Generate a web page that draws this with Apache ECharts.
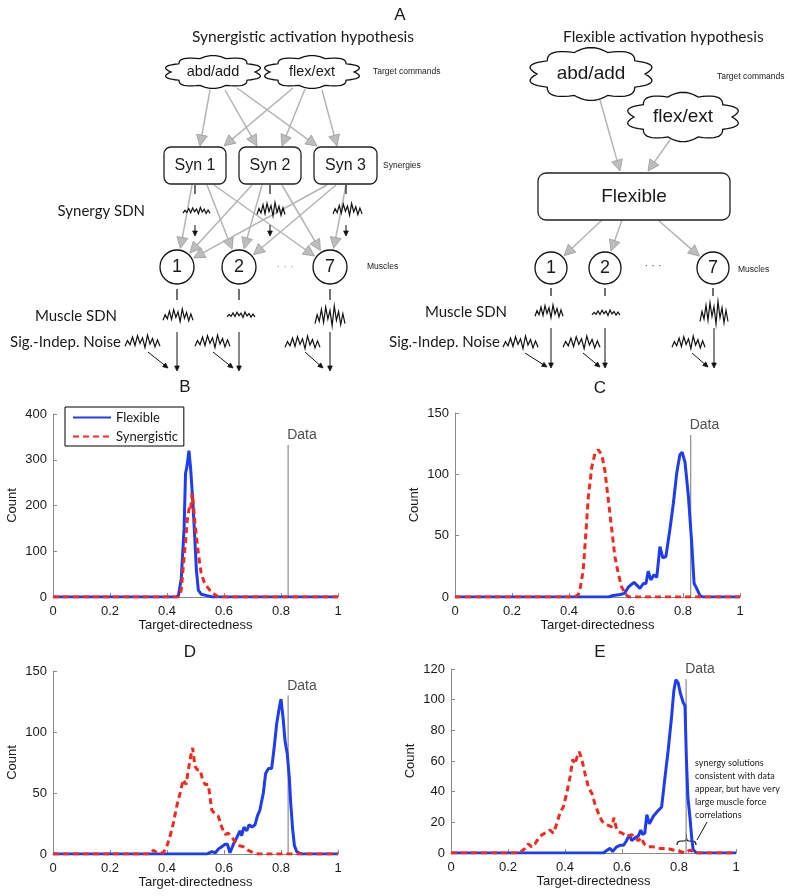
<!DOCTYPE html>
<html><head><meta charset="utf-8">
<script src="https://cdn.jsdelivr.net/npm/echarts@6/dist/echarts.min.js"></script>
<style>html,body{margin:0;padding:0;background:#fff}#c{width:800px;height:896px}</style>
</head><body><div id="c"></div>
<script>
// ---------------- DATA ----------------
const xTickLabels = ['0','0.2','0.4','0.6','0.8','1'];
const yMaxes = [400,150,150,120];
const ySteps = [100,50,50,20];
const dataLineX = [0.825,0.827,0.825,0.825];
const dataLineTop = [332,132,130,113.5];

const flexB = [[0,0],[0.43,0],[0.44,3],[0.45,40],[0.46,150],[0.465,270],[0.47,285],[0.477,320],[0.483,280],[0.49,215],[0.497,135],[0.503,60],[0.51,15],[0.52,6],[0.54,3],[0.56,0],[1,0]];
const synB = [[0,0],[0.44,0],[0.45,15],[0.457,66],[0.465,120],[0.471,168],[0.478,195],[0.483,190],[0.488,227],[0.493,200],[0.498,162],[0.504,128],[0.51,96],[0.515,72],[0.52,52],[0.53,33],[0.539,24],[0.55,15],[0.56,9],[0.57,4],[0.58,1],[0.6,0],[1,0]];

const flexC = [[0,0],[0.54,0],[0.55,1],[0.58,2],[0.595,3],[0.608,8],[0.628,12],[0.649,7],[0.661,11],[0.67,11],[0.678,21],[0.687,14],[0.698,18],[0.708,16],[0.719,41],[0.729,32],[0.74,33],[0.754,55],[0.766,76],[0.778,101],[0.789,116],[0.797,118],[0.807,110],[0.819,82],[0.83,46],[0.839,11],[0.848,7],[0.86,1],[0.87,0],[1,0]];
const synC = [[0,0],[0.42,0],[0.433,2],[0.44,8],[0.45,22],[0.46,55],[0.468,82],[0.48,106],[0.491,117],[0.503,120],[0.515,116],[0.526,103],[0.538,79],[0.55,55],[0.561,33],[0.573,19],[0.585,8],[0.6,2],[0.61,0],[1,0]];

const flexD = [[0,0],[0.54,0],[0.557,2],[0.57,1],[0.58,4],[0.592,6],[0.604,8],[0.612,8],[0.621,1],[0.633,8],[0.644,13],[0.656,19],[0.662,15],[0.67,22],[0.68,19],[0.688,24],[0.698,22],[0.709,24],[0.717,31],[0.726,36],[0.738,50],[0.746,66],[0.756,70],[0.767,70],[0.775,85],[0.785,107],[0.794,120],[0.8,127],[0.808,110],[0.814,93],[0.822,82],[0.829,63],[0.834,42],[0.841,20],[0.847,7],[0.855,2],[0.87,0],[1,0]];
const synD = [[0,0],[0.34,0],[0.352,3],[0.365,1],[0.387,1],[0.399,6],[0.41,14],[0.422,25],[0.434,39],[0.446,50],[0.457,61],[0.467,57],[0.475,69],[0.483,80],[0.49,87],[0.498,72],[0.506,69],[0.516,69],[0.525,61],[0.533,57],[0.545,57],[0.557,36],[0.568,33],[0.58,31],[0.592,22],[0.604,16],[0.615,17],[0.627,14],[0.639,10],[0.65,7],[0.668,6],[0.685,3],[0.703,1],[0.72,0],[1,0]];

const flexE = [[0,0],[0.535,0],[0.549,2],[0.558,3],[0.567,1],[0.581,4],[0.593,5],[0.605,5],[0.616,8],[0.626,12],[0.634,8],[0.646,10],[0.657,11],[0.666,15],[0.672,12],[0.68,13],[0.687,25],[0.696,19],[0.71,24],[0.724,27],[0.739,30],[0.75,48],[0.762,67],[0.774,89],[0.782,106],[0.789,113],[0.797,111],[0.805,104],[0.815,98],[0.821,96],[0.826,61],[0.831,37],[0.839,22],[0.845,9],[0.85,2],[0.862,0],[1,0]];
const synE = [[0,0],[0.24,0],[0.26,3],[0.271,6],[0.283,4],[0.295,6],[0.312,11],[0.33,13],[0.347,15],[0.359,13],[0.371,19],[0.382,26],[0.394,30],[0.406,39],[0.418,50],[0.427,61],[0.435,58],[0.443,63],[0.45,66],[0.459,61],[0.47,52],[0.482,43],[0.494,39],[0.505,32],[0.517,26],[0.529,21],[0.54,19],[0.552,18],[0.564,17],[0.572,23],[0.579,17],[0.587,14],[0.599,13],[0.611,12],[0.622,11],[0.634,12],[0.646,10],[0.657,8],[0.669,10],[0.677,6],[0.692,4],[0.71,4],[0.733,3],[0.757,3],[0.78,2],[0.804,1],[0.82,0],[0.839,2],[0.856,0],[1,0]];

const flexAll = [flexB, flexC, flexD, flexE];
const synAll = [synB, synC, synD, synE];

// ---------------- LAYOUT ----------------
const grids = [
  {left:53, top:414, width:285, height:183},
  {left:455, top:413, width:285, height:184},
  {left:53, top:671, width:285, height:183},
  {left:451, top:669, width:285, height:184}
];
const AX = 'Liberation Sans, Arial, sans-serif';
const MY = 'Lato, "Open Sans", sans-serif';
const BLUE = '#1e3cf0', RED = '#f42a1e';

const xAxes = [], yAxes = [], series = [];
for (let i = 0; i < 4; i++) {
  xAxes.push({
    gridIndex:i, type:'value', min:0, max:1, interval:0.2,
    axisLine:{lineStyle:{color:'#8a8a8a', width:1}},
    axisTick:{inside:true, length:4, lineStyle:{color:'#8a8a8a'}},
    axisLabel:{color:'#1a1a1a', fontSize:13, fontFamily:AX, margin:8,
      formatter:v => xTickLabels[Math.round(v/0.2)]},
    splitLine:{show:false},
    name:'Target-directedness', nameLocation:'middle', nameGap:21,
    nameTextStyle:{color:'#1a1a1a', fontSize:13, fontFamily:AX}
  });
  yAxes.push({
    gridIndex:i, type:'value', min:0, max:yMaxes[i], interval:ySteps[i],
    axisLine:{show:true, lineStyle:{color:'#8a8a8a', width:1}},
    axisTick:{show:true, inside:true, length:4, lineStyle:{color:'#8a8a8a'}},
    axisLabel:{color:'#1a1a1a', fontSize:13, fontFamily:AX, margin:6},
    splitLine:{show:false},
    name:'Count', nameLocation:'middle', nameGap:34,
    nameTextStyle:{color:'#1a1a1a', fontSize:13, fontFamily:AX}
  });
  series.push({
    name:'Data', type:'line', xAxisIndex:i, yAxisIndex:i, symbol:'none', silent:true,
    lineStyle:{color:'#8c8c8c', width:1.2},
    data:[[dataLineX[i],0],[dataLineX[i],dataLineTop[i]]], z:1
  });
  series.push({
    name:'Data', type:'scatter', xAxisIndex:i, yAxisIndex:i, symbolSize:1, silent:true,
    itemStyle:{color:'rgba(0,0,0,0)'},
    label:{show:true, formatter:'Data', position:[-0.5,-16], fontSize:14, fontFamily:AX, color:'#222'},
    data:[[dataLineX[i], dataLineTop[i]]], z:1
  });
  series.push({
    name:'Flexible', type:'line', xAxisIndex:i, yAxisIndex:i, symbol:'none',
    lineStyle:{color:BLUE, width:3}, itemStyle:{color:BLUE},
    data:flexAll[i], z:3
  });
  series.push({
    name:'Synergistic', type:'line', xAxisIndex:i, yAxisIndex:i, symbol:'none',
    lineStyle:{color:RED, width:3, type:[6,4]}, itemStyle:{color:RED},
    data:synAll[i], z:4
  });
}

// ---------------- DIAGRAM (graphic) ----------------
const G = [];
function ln(x1,y1,x2,y2,stroke,w){ G.push({type:'line', silent:true, shape:{x1,y1,x2,y2}, style:{stroke, lineWidth:w}}); }
function arrow(x1,y1,x2,y2,o){
  const dx=x2-x1, dy=y2-y1, L=Math.hypot(dx,dy), ux=dx/L, uy=dy/L;
  const bx=x2-ux*o.hl, by=y2-uy*o.hl;
  ln(x1,y1,bx+ux*1,by+uy*1,o.stroke,o.w);
  G.push({type:'polygon', silent:true, shape:{points:[[x2,y2],[bx-uy*o.hw,by+ux*o.hw],[bx+uy*o.hw,by-ux*o.hw]]},
    style:{fill:o.fill, stroke:o.edge, lineWidth:0.8}});
}
const GRAY = {hl:11, hw:5.5, stroke:'#b4b4b4', w:1.5, fill:'#bdbdbd', edge:'#9a9a9a'};
const BLK = {hl:5, hw:2.3, stroke:'#111', w:1, fill:'#111', edge:'#111'};
function arrowToCircle(sx,sy,c,gap){
  const dx=sx-c[0], dy=sy-c[1], L=Math.hypot(dx,dy);
  arrow(sx,sy,c[0]+dx/L*(c[2]+gap), c[1]+dy/L*(c[2]+gap), GRAY);
}
function txt(x,y,s,font,align,color){ G.push({type:'text', silent:true, x, y, style:{text:s, font, fill:color||'#1a1a1a', align:align||'center', verticalAlign:'middle'}}); }
function quadPts(p0,q,p1,steps,out){
  for(let s=1;s<=steps;s++){
    const t=s/steps, a=(1-t)*(1-t), b=2*t*(1-t), c=t*t;
    out.push([a*p0[0]+b*q[0]+c*p1[0], a*p0[1]+b*q[1]+c*p1[1]]);
  }
}
function cloudPts(cx,cy,rx,ry,n,k){
  const pts=[[cx+rx,cy]];
  for(let i=1;i<=n;i++){
    const t0=(i-1)/n*2*Math.PI, t=i/n*2*Math.PI, tm=(i-0.5)/n*2*Math.PI;
    quadPts([cx+rx*Math.cos(t0),cy+ry*Math.sin(t0)],[cx+rx*k*Math.cos(tm),cy+ry*k*Math.sin(tm)],[cx+rx*Math.cos(t),cy+ry*Math.sin(t)],10,pts);
  }
  return pts;
}
function cloud(cx,cy,rx,ry,n,label,font){
  G.push({type:'polygon', silent:true, shape:{points:cloudPts(cx,cy,rx,ry,n,1.4)}, style:{fill:'#fff', stroke:'#111', lineWidth:1.3}});
  txt(cx,cy,label,font);
}
function box(x,y,w,h,r,label,font){
  G.push({type:'rect', silent:true, shape:{x,y,width:w,height:h,r}, style:{fill:'#fff', stroke:'#222', lineWidth:1.3}});
  txt(x+w/2,y+h/2+0.5,label,font);
}
function circ(c,label,font){
  G.push({type:'circle', silent:true, shape:{cx:c[0], cy:c[1], r:c[2]}, style:{fill:'#fff', stroke:'#111', lineWidth:1.3}});
  txt(c[0],c[1]+0.5,label,font);
}
const zig = [0.6,-0.2,0.4,-0.7,0.5,-0.9,0.2,-0.6,0.8,-1,0.3,-0.5,0.7,-0.3,0.6];
function sq(x0,x1,y,h){
  const pts = zig.map((p,i)=>[x0+(x1-x0)*i/(zig.length-1), y+p*h/2]);
  G.push({type:'polyline', silent:true, shape:{points:pts}, style:{stroke:'#111', lineWidth:1.2, fill:null}});
}

// --- left diagram ---
[[210,90,200,146],[293,88,224,146],[225,90,257,146],[305,89,282,146],[237,88,317,146],[322,90,337,146]]
  .forEach(a=>arrow(a[0],a[1],a[2],a[3],GRAY));
const LM1=[177,267,17], LM2=[239,267,17], LM7=[330,267,17];
[[192,185,LM1],[207,185,LM2],[214,185,LM7],[252,185,LM1],[262,185,LM2],[282,185,LM7],[327,185,LM1],[336,185,LM2],[346,185,LM7]]
  .forEach(a=>arrowToCircle(a[0],a[1],a[2],2));
cloud(213,72,42,14,10,'abd/add','14.5px '+AX);
cloud(312,72,42,14,10,'flex/ext','14.5px '+AX);
box(164,147,62,37,7,'Syn 1','16px '+AX);
box(239,147,62,37,7,'Syn 2','16px '+AX);
box(314,147,63,37,7,'Syn 3','16px '+AX);
circ(LM1,'1','18px '+AX); circ(LM2,'2','18px '+AX); circ(LM7,'7','18px '+AX);
txt(285,267,'· · ·','11px '+AX,'center','#999');
txt(373,72,'Target commands','8.5px '+AX,'left');
txt(383,166,'Synergies','8.5px '+AX,'left');
txt(367,267,'Muscles','8.5px '+AX,'left');
txt(192,37,'Synergistic activation hypothesis','15.5px '+MY,'left');
txt(145,211,'Synergy SDN','15px '+MY,'right');
txt(117,316,'Muscle SDN','15px '+MY,'right');
txt(121,342,'Sig.-Indep. Noise','15px '+MY,'right');
[195,270,346].forEach(x=>ln(x,185,x,194,'#111',1.2));
[195,270,346].forEach(x=>arrow(x,225,x,236,BLK));
[177,239,330].forEach(x=>ln(x,289,x,300,'#111',1.2));
sq(183,210,211,7); sq(257,285,210,15); sq(333,362,210,13);
sq(163,193,316,14); sq(227,255,315,6); sq(315,345,317,22);
sq(125,160,342,14); sq(195,230,342,14); sq(285,320,343,14);
[177,239,330].forEach(x=>arrow(x,332,x,371,BLK));
[[148,352,168,368],[213,352,233,368],[305,352,323,368]].forEach(a=>arrow(a[0],a[1],a[2],a[3],BLK));

// --- right diagram ---
arrow(600,100,620,171,GRAY);
arrow(670,140,648,171,GRAY);
const RM1=[551,268,16], RM2=[605,268,16], RM7=[713,268,16];
arrowToCircle(602,220,RM1,2); arrowToCircle(622,220,RM2,2); arrowToCircle(658,220,RM7,2);
cloud(591,74,54,22.5,10,'abd/add','19px '+AX);
cloud(683,117,49,21,10,'flex/ext','19px '+AX);
box(538,173,192,47,8,'Flexible','19px '+AX);
circ(RM1,'1','18px '+AX); circ(RM2,'2','18px '+AX); circ(RM7,'7','18px '+AX);
txt(653,266,'· · ·','11px '+AX,'center','#555');
txt(717,77,'Target commands','8.5px '+AX,'left');
txt(738,270,'Muscles','8.5px '+AX,'left');
txt(563,37,'Flexible activation hypothesis','15.5px '+MY,'left');
txt(507,312,'Muscle SDN','15px '+MY,'right');
txt(500,342,'Sig.-Indep. Noise','15px '+MY,'right');
[551,605,713].forEach(x=>ln(x,288,x,296,'#111',1.2));
sq(535,563,312,14); sq(592,620,313,6); sq(700,728,314,25);
sq(503,538,343,14); sq(563,600,343,14); sq(672,705,343,14);
[551,605,714].forEach(x=>arrow(x,328,x,368,BLK));
[[525,353,547,367],[583,353,600,367],[692,353,708,367]].forEach(a=>arrow(a[0],a[1],a[2],a[3],BLK));

// --- panel letters ---
txt(400,15,'A','17px '+AX);
txt(185,387,'B','17px '+AX);
txt(600,388,'C','17px '+AX);
txt(190,652,'D','17px '+AX);
txt(600,652,'E','17px '+AX);

// --- E annotation ---
G.push({type:'text', silent:true, x:695, y:757, style:{text:'synergy solutions\nconsistent with data\nappear, but have very\nlarge muscle force\ncorrelations', font:'9px '+MY, lineHeight:13, fill:'#1a1a1a', align:'left', verticalAlign:'top'}});
const brace=[[677,845]];
quadPts([677,845],[677,841],[681,841],4,brace);
brace.push([684,841]);
quadPts([684,841],[686.5,841],[686.5,837.5],4,brace);
quadPts([686.5,837.5],[686.5,841],[689,841],4,brace);
brace.push([692,841]);
quadPts([692,841],[696,841],[696,845],4,brace);
G.push({type:'polyline', silent:true, shape:{points:brace}, style:{stroke:'#111', lineWidth:1.2, fill:null}});
ln(697,840,707,822,'#111',1);

const option = {
  animation:false,
  backgroundColor:'#fff',
  grid:grids,
  xAxis:xAxes,
  yAxis:yAxes,
  legend:{
    left:65, top:407, orient:'vertical', data:['Flexible','Synergistic'],
    borderColor:'#000', borderWidth:1, borderRadius:0, padding:[4,6,3,7],
    itemWidth:38, itemHeight:14, itemGap:6,
    itemStyle:{opacity:0, borderWidth:0},
    textStyle:{fontSize:13, fontFamily:MY, color:'#1a1a1a'}
  },
  series:series,
  graphic:{elements:G}
};
const chart = echarts.init(document.getElementById('c'), null, {renderer:'canvas'});
chart.setOption(option);
</script></body></html>
